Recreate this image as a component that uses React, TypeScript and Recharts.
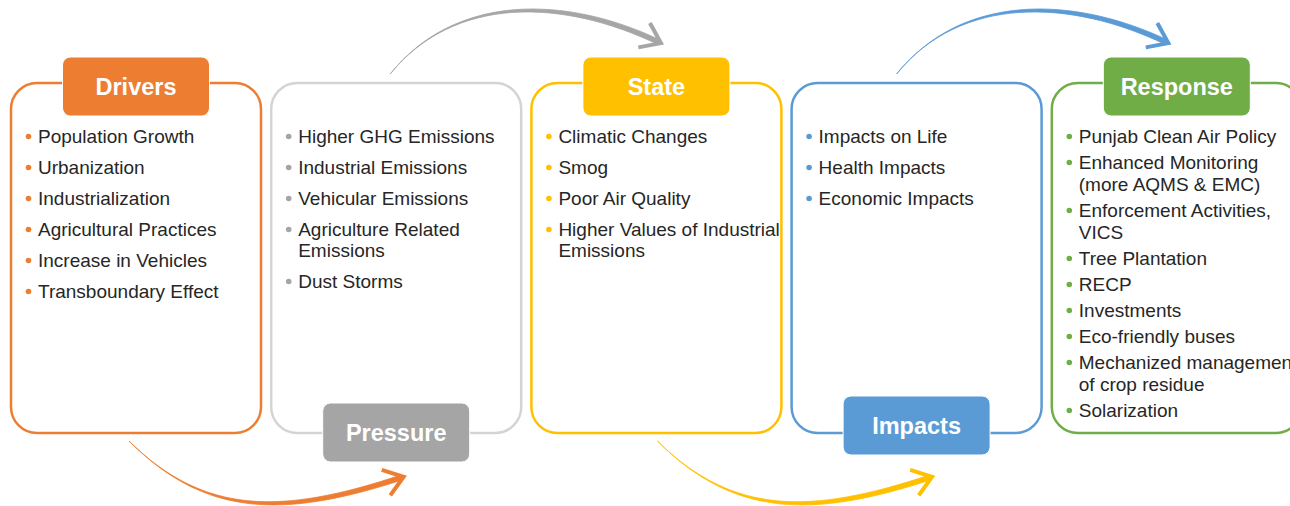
import React from 'react';
import { BarChart, Bar, XAxis, YAxis } from 'recharts';

if (typeof document !== 'undefined') document.body.style.margin = '0';

// DPSIR stages, one band each
const stages = ['Drivers', 'Pressure', 'State', 'Impacts', 'Response'];
const span = [1, 1, 1, 1, 1];

const driversItems = [
  'Population Growth',
  'Urbanization',
  'Industrialization',
  'Agricultural Practices',
  'Increase in Vehicles',
  'Transboundary Effect',
];
const pressureItems = [
  'Higher GHG Emissions',
  'Industrial Emissions',
  'Vehicular Emissions',
  'Agriculture Related\nEmissions',
  'Dust Storms',
];
const stateItems = [
  'Climatic Changes',
  'Smog',
  'Poor Air Quality',
  'Higher Values of Industrial\nEmissions',
];
const impactsItems = ['Impacts on Life', 'Health Impacts', 'Economic Impacts'];
const responseItems = [
  'Punjab Clean Air Policy',
  'Enhanced Monitoring\n(more AQMS & EMC)',
  'Enforcement Activities,\nVICS',
  'Tree Plantation',
  'RECP',
  'Investments',
  'Eco-friendly buses',
  'Mechanized management\nof crop residue',
  'Solarization',
];
const stageItems = [driversItems, pressureItems, stateItems, impactsItems, responseItems];

const data = stages.map((name, i) => ({ name, span: span[i], items: stageItems[i] }));

// styling / layout
const FILL = ['#ED7D31', '#A5A5A5', '#FFC000', '#5B9BD5', '#70AD47'];
const BORDER = ['#ED7D31', '#D4D4D4', '#FFC000', '#5B9BD5', '#70AD47'];
const ARROW = ['#ED7D31', '#A6A6A6', '#FFC000', '#5B9BD5'];
const ARROW_START = [118, 119, 126, 105]; // from own box left edge
const ARROW_END = [130, 129, 138, 116]; // from next box left edge
const TAG_TOP = [true, false, true, false, true];
const TAG_DY = [-26, -30, -26, -37, -26];
const ITEM_GAP = [31, 31, 31, 31, 26];
const LINE_GAP = [21, 21, 21, 21, 22];
const FONT = '"Liberation Sans", Arial, Helvetica, sans-serif';
const GAP = 5;

type P = [number, number];

function Arrow({ s, c1, c2, e, color, w }: { s: P; c1: P; c2: P; e: P; color: string; w: number }) {
  const tx = e[0] - c2[0];
  const ty = e[1] - c2[1];
  const len = Math.hypot(tx, ty);
  const ux = tx / len;
  const uy = ty / len;
  const nx = -uy;
  const ny = ux;
  const o = (p: P, k: number): string => `${p[0] + nx * w * k},${p[1] + ny * w * k}`;
  const d = `M${s[0]},${s[1]} C${c1[0]},${c1[1]} ${c2[0]},${c2[1]} ${e[0]},${e[1]} L${o(e, 1)} C${o(c2, 0.85)} ${o(c1, 0.4)} ${s[0]},${s[1]} Z`;
  const tip: P = [e[0] + nx * w * 0.5 + ux * 2, e[1] + ny * w * 0.5 + uy * 2];
  const a = (36 * Math.PI) / 180;
  const L = 23;
  const bx = -ux;
  const by = -uy;
  const arm = (ang: number): string =>
    `${tip[0] + L * (bx * Math.cos(ang) - by * Math.sin(ang))},${tip[1] + L * (bx * Math.sin(ang) + by * Math.cos(ang))}`;
  return (
    <g>
      <path d={d} fill={color} stroke={color} strokeWidth={0.8} />
      <polyline
        points={`${arm(a)} ${tip[0]},${tip[1]} ${arm(-a)}`}
        fill="none"
        stroke={color}
        strokeWidth={4}
        strokeLinejoin="miter"
        strokeMiterlimit={8}
      />
    </g>
  );
}

const StageShape = (props: any) => {
  const { x, y, width, height, index, payload } = props;
  const i = index as number;
  const bottom = y + height;
  const cx = x + width / 2;
  const tagW = 147;
  const tagH = 59;
  const tagY = TAG_TOP[i] ? y + TAG_DY[i] : bottom + TAG_DY[i];
  const items: string[] = payload.items;
  const tx = x + 27;

  // bullets
  const lines: React.ReactNode[] = [];
  let base = y + 60;
  items.forEach((item, k) => {
    const parts = item.split('\n');
    lines.push(<circle key={`d${k}`} cx={tx - 9.5} cy={base - 6.5} r={2.8} fill={FILL[i]} />);
    parts.forEach((t, j) => {
      lines.push(
        <text key={`t${k}-${j}`} x={tx} y={base + j * LINE_GAP[i]} fontSize={19} fontFamily={FONT} fill="#262626">
          {t}
        </text>
      );
    });
    base += (parts.length - 1) * LINE_GAP[i] + ITEM_GAP[i];
  });

  // arrow to the next stage
  let arrow: React.ReactNode = null;
  if (i < stages.length - 1) {
    const nbx = x + width + 2 * GAP;
    if (i % 2 === 1) {
      const s: P = [x + ARROW_START[i], y - 9];
      const e: P = [nbx + ARROW_END[i], y - 43];
      arrow = <Arrow s={s} c1={[s[0] + 65, y - 90]} c2={[e[0] - 95, y - 88]} e={e} color={ARROW[i]} w={5} />;
    } else {
      const s: P = [x + ARROW_START[i], bottom + 8];
      const e: P = [nbx + ARROW_END[i], bottom + 42];
      arrow = <Arrow s={s} c1={[s[0] + 75, bottom + 82]} c2={[e[0] - 120, bottom + 82]} e={e} color={ARROW[i]} w={5} />;
    }
  }

  return (
    <g>
      {arrow}
      <rect x={x} y={y} width={width} height={height} rx={26} ry={26} fill="#fff" stroke={BORDER[i]} strokeWidth={2.5} />
      <rect x={cx - tagW / 2} y={tagY} width={tagW} height={tagH} rx={8} ry={8} fill={FILL[i]} stroke="#fff" strokeWidth={1} />
      <text x={cx} y={tagY + tagH / 2 + 8.5} textAnchor="middle" fontSize={23.5} fontWeight="bold" fontFamily={FONT} fill="#fff">
        {payload.name}
      </text>
      {lines}
    </g>
  );
};

export default function App() {
  return (
    <div style={{ width: 1290, height: 506, overflow: 'hidden', background: '#fff' }}>
      <BarChart width={1307} height={506} data={data} margin={{ top: 83, bottom: 73, left: 6, right: 0 }} barCategoryGap={GAP}>
        <XAxis dataKey="name" type="category" hide />
        <YAxis type="number" domain={[0, 1]} hide />
        <Bar dataKey="span" shape={StageShape} isAnimationActive={false} />
      </BarChart>
    </div>
  );
}
